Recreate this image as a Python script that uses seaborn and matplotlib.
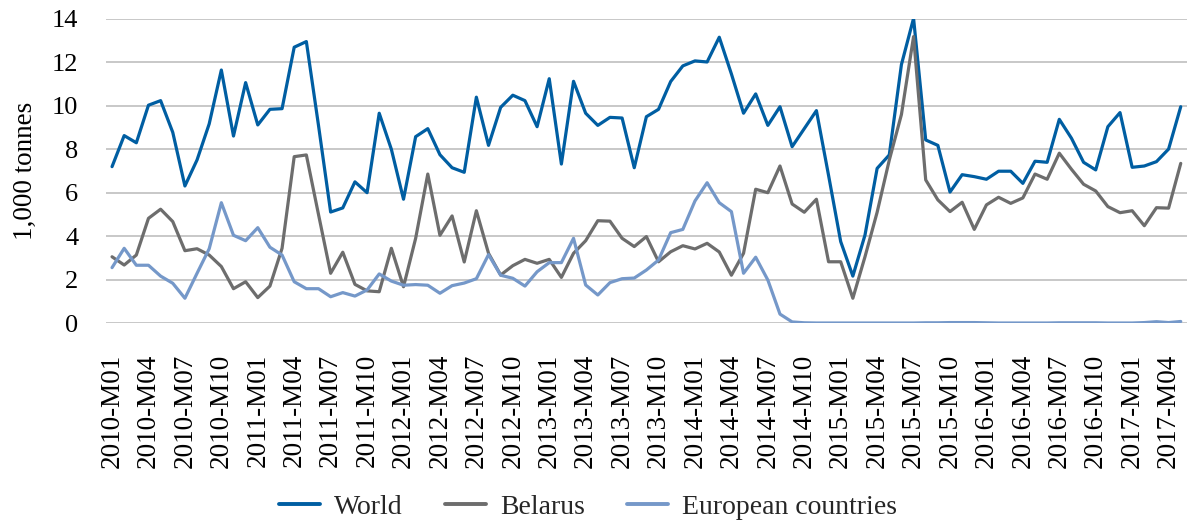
import pandas as pd
import seaborn as sns
import matplotlib.pyplot as plt

# monthly series, 1,000 tonnes, 2010-M01 .. 2017-M05
months = [f"{p.year}-M{p.month:02d}" for p in pd.period_range("2010-01", "2017-05", freq="M")]

world = [
    7.2, 8.63, 8.3, 10.03, 10.24, 8.78, 6.31, 7.51, 9.17, 11.65, 8.61, 11.07,
    9.12, 9.84, 9.87, 12.7, 12.96, 9.1, 5.11, 5.3, 6.5, 6.0, 9.66, 8.0,
    5.7, 8.58, 8.95, 7.75, 7.15, 6.94, 10.4, 8.18, 9.93, 10.49, 10.24, 9.04,
    11.25, 7.32, 11.13, 9.66, 9.1, 9.47, 9.44, 7.15, 9.5, 9.84, 11.12, 11.84,
    12.07, 12.02, 13.16, 11.47, 9.66, 10.55, 9.1, 9.96, 8.12, 8.95, 9.78, 6.8,
    3.75, 2.16, 4.05, 7.12, 7.74, 11.9, 14.03, 8.43, 8.18, 6.03, 6.83, 6.74,
    6.62, 6.99, 6.99, 6.43, 7.45, 7.4, 9.38, 8.51, 7.4, 7.05, 9.04, 9.69,
    7.17, 7.23, 7.43, 8.01, 9.96,
]

belarus = [
    3.05, 2.67, 3.13, 4.82, 5.24, 4.67, 3.33, 3.42, 3.13, 2.6, 1.58, 1.9,
    1.17, 1.7, 3.44, 7.66, 7.74, 5.0, 2.29, 3.26, 1.78, 1.48, 1.44, 3.44,
    1.67, 3.9, 6.86, 4.04, 4.93, 2.81, 5.17, 3.21, 2.21, 2.64, 2.93, 2.75,
    2.93, 2.1, 3.21, 3.79, 4.71, 4.69, 3.9, 3.52, 3.98, 2.82, 3.28, 3.56,
    3.41, 3.67, 3.27, 2.2, 3.21, 6.16, 6.0, 7.23, 5.48, 5.1, 5.7, 2.82,
    2.82, 1.14, 3.05, 5.1, 7.5, 9.6, 13.19, 6.59, 5.67, 5.13, 5.56, 4.31,
    5.44, 5.79, 5.51, 5.76, 6.86, 6.62, 7.82, 7.08, 6.39, 6.08, 5.36, 5.08,
    5.17, 4.48, 5.31, 5.29, 7.35,
]

european = [
    2.55, 3.44, 2.66, 2.66, 2.16, 1.83, 1.14, 2.29, 3.42, 5.54, 4.04, 3.79,
    4.39, 3.49, 3.13, 1.9, 1.58, 1.58, 1.21, 1.4, 1.24, 1.52, 2.26, 1.93,
    1.74, 1.77, 1.74, 1.37, 1.72, 1.84, 2.04, 3.15, 2.2, 2.06, 1.7, 2.36,
    2.78, 2.78, 3.9, 1.75, 1.29, 1.86, 2.04, 2.07, 2.44, 2.9, 4.16, 4.31,
    5.62, 6.46, 5.54, 5.13, 2.29, 3.03, 1.98, 0.41, 0.05, 0.01, 0.0, 0.0,
    0.0, 0.0, 0.0, 0.0, 0.0, 0.0, 0.0, 0.01, 0.01, 0.02, 0.02, 0.02,
    0.01, 0.0, 0.0, 0.0, 0.0, 0.0, 0.01, 0.01, 0.01, 0.01, 0.0, 0.0,
    0.0, 0.02, 0.06, 0.02, 0.07,
]

series_names = ["World", "Belarus", "European countries"]
series_colors = ["#005EA2", "#6D6D6D", "#7598C9"]


def build_dataframe() -> pd.DataFrame:
    """
    Long-form table for seaborn.
    """
    frames = []
    for name, values in zip(series_names, [world, belarus, european]):
        frames.append(pd.DataFrame({
            "pos": range(len(months)),
            "value": values,
            "series": name,
        }))
    return pd.concat(frames, ignore_index=True)


def main() -> None:
    sns.set_theme(style="white")
    plt.rcParams["font.family"] = ["Liberation Serif", "DejaVu Serif"]

    data = build_dataframe()

    fig = plt.figure(figsize=(11.88, 5.23), dpi=100)
    ax = fig.add_axes([0.0892, 0.3824, 0.9098, 0.5813])

    sns.lineplot(
        data=data,
        x="pos",
        y="value",
        hue="series",
        hue_order=series_names,
        palette=series_colors,
        linewidth=2.3,
        sort=False,
        legend=False,
        ax=ax,
    )

    ax.set_xlim(-0.5, len(months) - 0.5)
    ax.set_ylim(0, 14)
    ax.set_yticks(range(0, 15, 2))
    ax.set_xticks(range(0, len(months), 3))
    ax.set_xticklabels(months[::3], rotation=90)
    ax.yaxis.grid(True, color="#C4C4C4", linewidth=1.3)
    ax.set_axisbelow(True)
    for spine in ax.spines.values():
        spine.set_visible(False)
    ax.tick_params(axis="y", length=0, pad=20, labelsize=19, colors="black")
    ax.tick_params(axis="x", length=0, pad=22, labelsize=19.5, colors="black")
    ax.set_xlabel("")
    ax.set_ylabel("1,000 tonnes", fontsize=19.5, color="black", labelpad=10)

    handles = [
        plt.Line2D([], [], color=c, linewidth=2.8) for c in series_colors
    ]
    fig.legend(
        handles,
        series_names,
        loc="center",
        bbox_to_anchor=(0.495, 0.03),
        ncol=3,
        frameon=False,
        fontsize=20,
        handlelength=1.5,
        handletextpad=0.5,
        columnspacing=1.5,
    )

    fig.savefig("out.png", dpi=100)


if __name__ == "__main__":
    main()
